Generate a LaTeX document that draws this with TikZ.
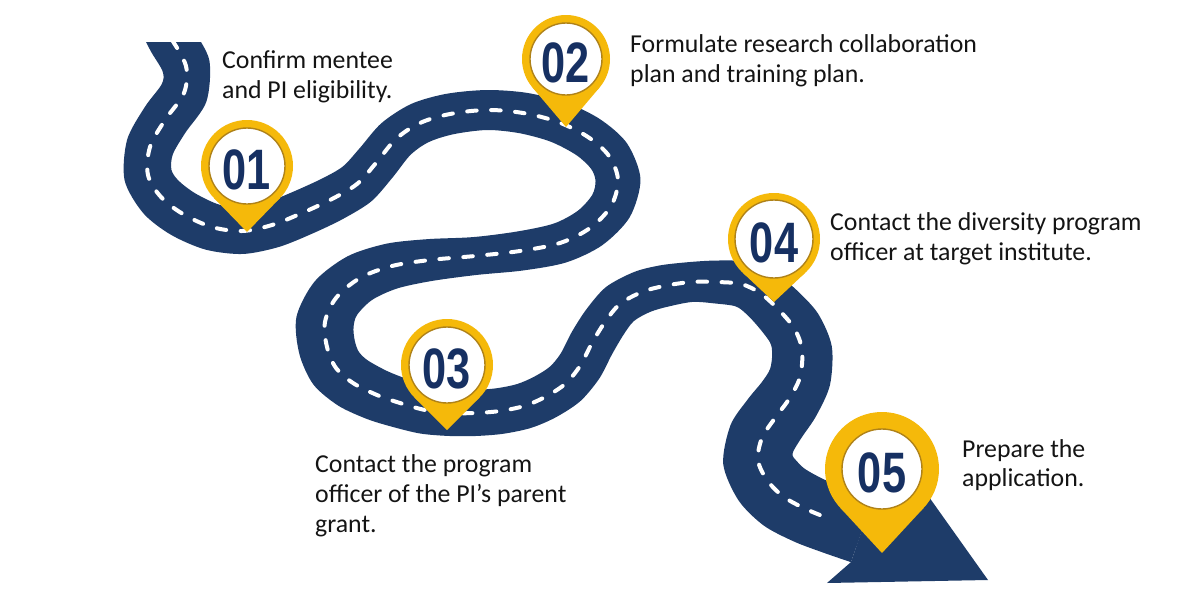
\documentclass[tikz,border=0pt]{standalone}
\usepackage{fontspec}
\usepackage{graphicx}
\setmainfont{Carlito}
\newfontfamily\numfont{Liberation Sans}
\usetikzlibrary{calc}
\definecolor{roadblue}{RGB}{30,60,105}
\definecolor{pingold}{RGB}{245,185,10}
\definecolor{ringline}{RGB}{175,130,25}
\definecolor{numblue}{RGB}{22,48,98}
\definecolor{txt}{RGB}{20,20,20}

\tikzset{
 lanedash/.style={draw=white, line width=4pt, line cap=round, dash pattern=on 9.5pt off 14.5pt},
 lbl/.style={anchor=base west, inner sep=0pt, text=txt, font=\fontsize{25.8}{30}\selectfont},
 pinnum/.style={inner sep=0pt, text=numblue, font=\numfont\bfseries\fontsize{57}{57}\selectfont}
}

\newcommand\mkpin[7]{%
 \pgfmathsetmacro\pa{acos(#4/#5)}%
 \fill[pingold] (#2,#3) circle[radius=#4pt];
 \fill[pingold] ($(#2,#3)+(90-\pa:#4)$) -- (#2,#3+#5) -- ($(#2,#3)+(90+\pa:#4)$) -- cycle;
 \fill[white, draw=ringline, line width=1.4pt] (#2,#3) circle[radius=#6pt];
 \node[pinnum] (n#1) at (#2,#3+4) {\scalebox{0.76}[1]{#7}};
}

\begin{document}
\begin{tikzpicture}[x=1pt,y=-1pt]
\useasboundingbox[fill=white] (0,0) rectangle (1200,600);

\foreach \x/\y/\w [count=\i from 0] in {
 160/16/48, 172/40/48, 186/66/48, 184/93/48, 165/120/48, 150/147/48, 148/175/48,
 161/197/48, 183/214/48, 212/227/47, 242/231/46, 272/225/46, 302/213/46,
 332/199/45.5, 357/184/45, 376/163/44, 396/139/43, 420/123/42, 450/114/41,
 487/110/40, 523/113/41, 558/122/42, 588/137/43, 609/156/44, 618/180/45,
 611/206/43.6, 590/228/42.2, 560/243/40.8, 520/251/39.4, 475/256/38, 430/260/42,
 392/266/46, 360/278/50, 336/298/54, 325/322/58, 327/347/57, 336/368/56,
 353/383/54, 377/395/52, 400/403/50, 425/410/48, 450/413/46, 475/413/46,
 500/411/46, 524/406/46, 545/397/46, 565/384/46, 580/366/46, 592/343/46,
 605/322/45, 620/304/44, 642/292/43, 664/286/42, 691/282/40, 716/282/43,
 741/284/46, 760/293/50, 777/308/53, 794/328/56, 802/350/60, 800/377/62,
 789/399/64, 775/418/66, 762/438/68, 758/460/70, 767/480/70, 784/497/70,
 808/510/69, 833/520/68, 862/530/68}
{
 \coordinate (p\i) at (\x,\y);
 \expandafter\xdef\csname rw\i\endcsname{\w}
}

\foreach \i in {0,...,69} {
 \pgfmathtruncatemacro\ipx{max(\i-1,0)}
 \pgfmathtruncatemacro\inx{min(\i+1,69)}
 \pgfmathsetmacro\hw{\csname rw\i\endcsname/2}
 \coordinate (l\i) at ($(p\i)+($(p\ipx)!\hw pt!90:(p\inx)$)-(p\ipx)$);
 \coordinate (r\i) at ($(p\i)+($(p\ipx)!\hw pt!-90:(p\inx)$)-(p\ipx)$);
}

\begin{scope}
\clip (0,42) rectangle (1200,600);
\fill[roadblue] plot[smooth, tension=0.5] coordinates {
 (l0) (l1) (l2) (l3) (l4) (l5) (l6) (l7) (l8) (l9) (l10) (l11) (l12) (l13) (l14)
 (l15) (l16) (l17) (l18) (l19) (l20) (l21) (l22) (l23) (l24) (l25) (l26) (l27)
 (l28) (l29) (l30) (l31) (l32) (l33) (l34) (l35) (l36) (l37) (l38) (l39) (l40)
 (l41) (l42) (l43) (l44) (l45) (l46) (l47) (l48) (l49) (l50) (l51) (l52) (l53)
 (l54) (l55) (l56) (l57) (l58) (l59) (l60) (l61) (l62) (l63) (l64) (l65) (l66)
 (l67) (l68) (l69)}
 -- plot[smooth, tension=0.5] coordinates {
 (r69) (r68) (r67) (r66) (r65) (r64) (r63) (r62) (r61) (r60) (r59) (r58) (r57)
 (r56) (r55) (r54) (r53) (r52) (r51) (r50) (r49) (r48) (r47) (r46) (r45) (r44)
 (r43) (r42) (r41) (r40) (r39) (r38) (r37) (r36) (r35) (r34) (r33) (r32) (r31)
 (r30) (r29) (r28) (r27) (r26) (r25) (r24) (r23) (r22) (r21) (r20) (r19) (r18)
 (r17) (r16) (r15) (r14) (r13) (r12) (r11) (r10) (r9) (r8) (r7) (r6) (r5) (r4)
 (r3) (r2) (r1) (r0)} -- cycle;
\draw[roadblue, line width=34pt] plot[smooth, tension=0.55] coordinates {
 (p0) (p1) (p2) (p3) (p4) (p5) (p6) (p7) (p8) (p9) (p10) (p11) (p12) (p13) (p14)
 (p15) (p16) (p17) (p18) (p19) (p20) (p21) (p22) (p23) (p24) (p25) (p26) (p27)
 (p28) (p29) (p30) (p31) (p32) (p33) (p34) (p35) (p36) (p37) (p38) (p39) (p40)
 (p41) (p42) (p43) (p44) (p45) (p46) (p47) (p48) (p49) (p50) (p51) (p52) (p53)
 (p54) (p55) (p56) (p57) (p58) (p59) (p60) (p61) (p62) (p63) (p64) (p65) (p66)
 (p67) (p68) (p69)};
\draw[lanedash] plot[smooth, tension=0.55] coordinates {
 (p1) (p2) (p3) (p4) (p5) (p6) (p7) (p8) (p9) (p10) (p11) (p12) (p13) (p14)
 (p15) (p16) (p17) (p18) (p19) (p20) (p21) (p22) (p23) (p24) (p25) (p26) (p27)
 (p28) (p29) (p30) (p31) (p32) (p33) (p34) (p35) (p36) (p37) (p38) (p39) (p40)
 (p41) (p42) (p43) (p44) (p45) (p46) (p47) (p48) (p49) (p50) (p51) (p52) (p53)
 (p54) (p55) (p56) (p57) (p58) (p59) (p60) (p61) (p62) (p63) (p64) (p65) (p66)
 (p67) (p68)};
\end{scope}

\fill[roadblue] (r69) -- (827,583) -- (988,580) -- (897,452) -- (l69) -- cycle;

\mkpin{1}{247}{166}{46}{66}{38}{01}
\mkpin{2}{566}{59}{44}{68}{36}{02}
\mkpin{3}{447}{365}{46}{65}{38}{03}
\mkpin{4}{774}{239}{46}{63}{39}{04}
\mkpin{5}{882}{469}{57}{84}{40}{05}

\node[lbl] (t1a) at (222,68) {Confirm mentee};
\node[lbl] (t1b) at (222,98) {and PI eligibility.};
\node[lbl] (t2a) at (630,52) {Formulate research collaboration};
\node[lbl] (t2b) at (630,82) {plan and training plan.};
\node[lbl] (t4a) at (830,230) {Contact the diversity program};
\node[lbl] (t4b) at (830,260) {officer at target institute.};
\node[lbl] (t3a) at (315,472) {Contact the program};
\node[lbl] (t3b) at (315,502) {officer of the PI’s parent};
\node[lbl] (t3c) at (315,532) {grant.};
\node[lbl] (t5a) at (962,457) {Prepare the};
\node[lbl] (t5b) at (962,486) {application.};
\end{tikzpicture}
\end{document}
